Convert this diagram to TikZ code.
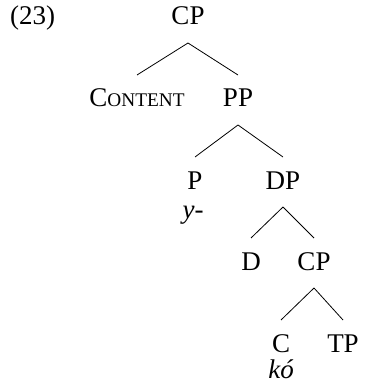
\documentclass[tikz,border=0pt]{standalone}
\usepackage{fontspec}
\setmainfont{Liberation Serif}
\begin{document}
\begin{tikzpicture}[x=1pt,y=-1pt,
  lab/.style={anchor=base,inner sep=0pt,font=\fontsize{27}{30}\selectfont},
  gloss/.style={anchor=base,inner sep=0pt,font=\fontsize{27}{30}\selectfont\itshape},
  edge/.style={line width=0.8pt}]
\useasboundingbox (0,0) rectangle (365,390);
\node[lab,anchor=base west] (num) at (10,25) {(23)};
\node[lab] (cp1) at (188,25) {CP};
\node[lab] (content) at (137,107) {C{\fontsize{19.3}{22}\selectfont ONTENT}};
\node[lab] (pp) at (238,107) {PP};
\node[lab] (p) at (195,189) {P};
\node[gloss] (y) at (193,218) {y-};
\node[lab] (dp) at (283,189) {DP};
\node[lab] (d) at (251,270) {D};
\node[lab] (cp2) at (314,270) {CP};
\node[lab] (c) at (281,352) {C};
\node[gloss] (ko) at (281,378) {kó};
\node[lab] (tp) at (343,352) {TP};
\foreach \a/\b in {cp1/content,cp1/pp,pp/p,pp/dp,dp/d,dp/cp2,cp2/c,cp2/tp}
  \draw[edge] ([yshift=-18pt]\a.base) -- ([yshift=32pt]\b.base);
\end{tikzpicture}
\end{document}
